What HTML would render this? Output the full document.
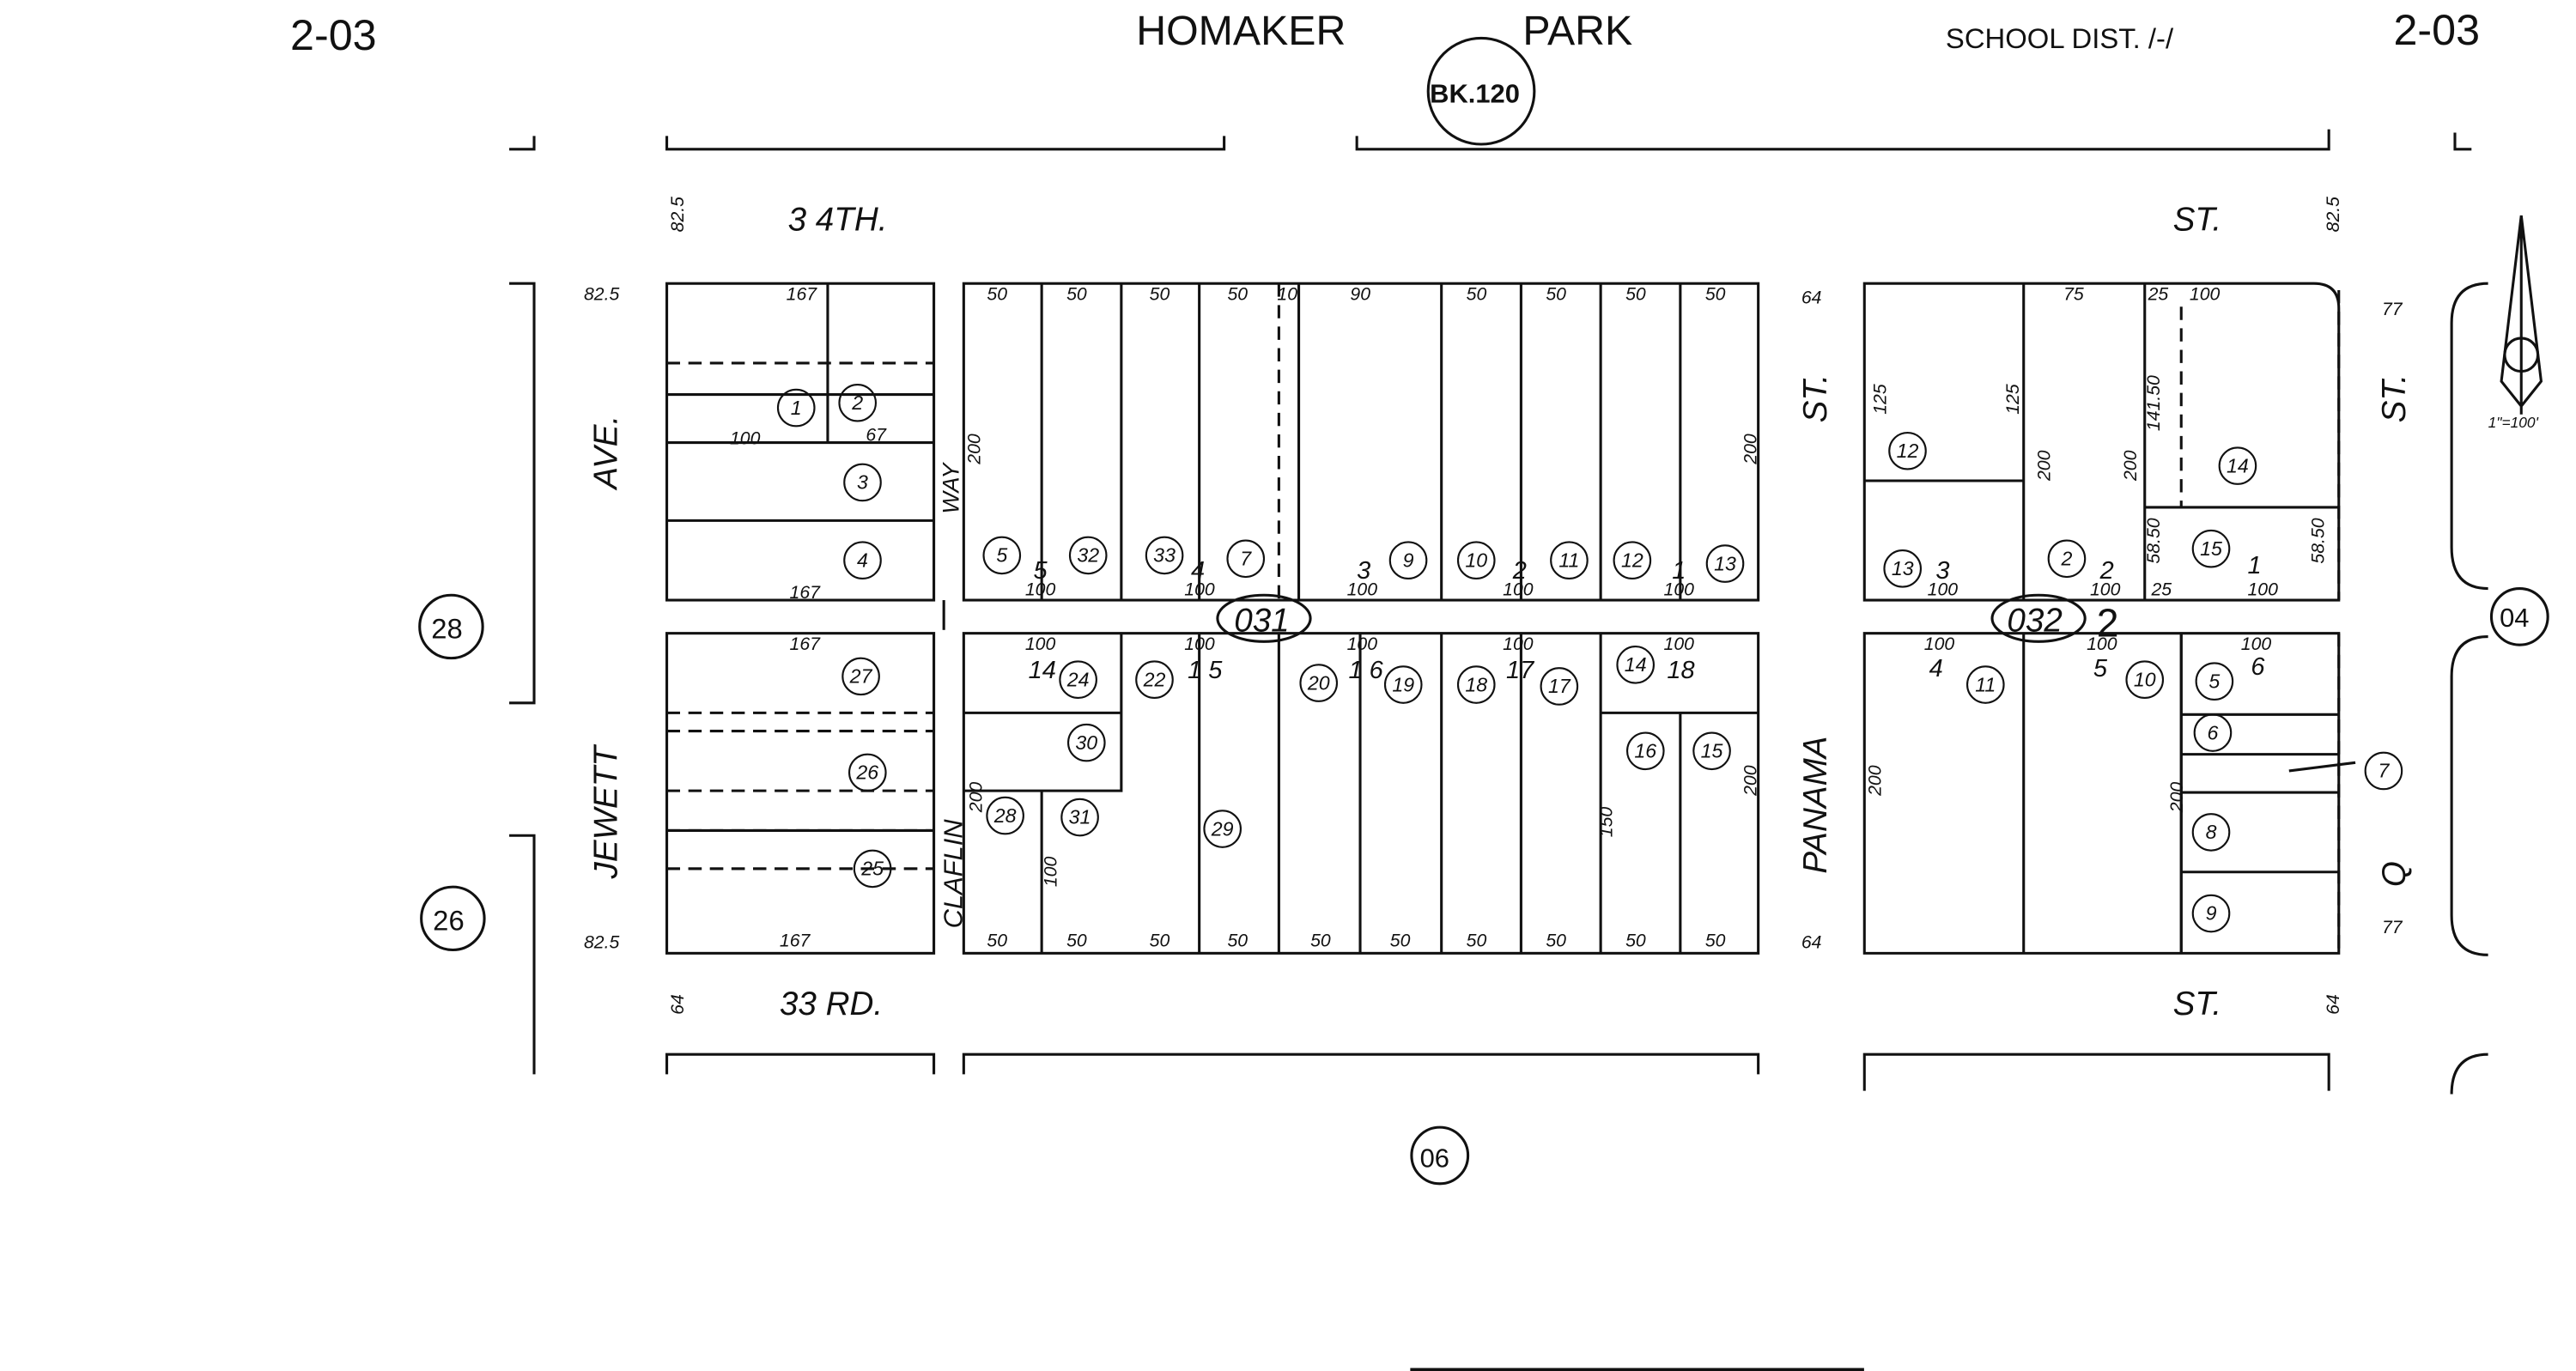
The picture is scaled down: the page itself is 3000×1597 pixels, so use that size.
<!DOCTYPE html>
<html><head><meta charset="utf-8"><style>
html,body{margin:0;padding:0;background:#fff;width:3000px;height:1597px;overflow:hidden}
svg{display:block}
text{font-family:"Liberation Sans",sans-serif;fill:#111}
.i{font-style:italic}
</style></head><body>
<svg width="3000" height="1597" viewBox="0 0 1553 827" preserveAspectRatio="none" xmlns="http://www.w3.org/2000/svg">
<g stroke="#111" stroke-width="1.6" fill="none">
<!-- top brackets -->
<path d="M402 82V90H738V82M818 82V90H1404V78M307 90H322V82M1480 80V90H1490"/>
<!-- left brackets -->
<path d="M307 171H322V424H307M307 504H322V648"/>
<!-- bottom brackets -->
<path d="M402 648V636H563V648M581 648V636H1060V648M1124 658V636H1404V658"/>
<!-- right curves -->
<path d="M1500 171Q1478 171 1478 195V330Q1478 355 1500 355M1500 384Q1478 384 1478 408V552Q1478 576 1500 576M1500 636Q1478 636 1478 660"/>
<!-- blocks -->
<rect x="402" y="171" width="161" height="191"/>
<rect x="402" y="382" width="161" height="193"/>
<rect x="581" y="171" width="479" height="191"/>
<rect x="581" y="382" width="479" height="193"/>
<path d="M1124 171H1395Q1410 171 1410 186V362H1124Z"/>
<path d="M1124 382H1410V575H1395Q1376 575 1376 575H1124Z"/>
<!-- block A inner -->
<path d="M499 171V267M402 267H563M402 314H563M402 238H563"/>
<path d="M402 219H563M402 430H563M402 477H563M402 501H563M402 524H563" stroke-dasharray="8 5"/>
<path d="M402 441H563M402 524H563" stroke-dasharray="8 5"/>
<path d="M402 501H563"/>
<!-- block B inner top -->
<path d="M628 171V362M676 171V362M723 171V362M783 171V362M869 171V362M917 171V362M965 171V362M1013 171V362"/>
<path d="M771 171V362" stroke-dasharray="8 5"/>
<!-- block B inner bottom -->
<path d="M581 430H676V382M581 477H676V430M628 477V575M723 382V575M771 382V575M820 382V575M869 382V575M917 382V575M965 382V575M965 430H1060M1013 430V575"/>
<!-- block C -->
<path d="M1220 171V362M1124 290H1220M1293 171V362M1293 306H1410M1220 382V575M1315 382V575M1315 431H1410M1315 455H1410M1315 478H1410M1315 526H1410"/>
<path d="M1315 185V306M1410 175V362M1410 382V575" stroke-dasharray="8 5"/>
<path d="M1315 382V575" />
<!-- small circles -->
<circle cx="893" cy="55" r="32"/>
<circle cx="272" cy="378" r="19"/><circle cx="273" cy="554" r="19"/>
<circle cx="1519" cy="372" r="17"/><circle cx="868" cy="697" r="17"/>
<ellipse cx="762" cy="373" rx="28" ry="14"/><ellipse cx="1229" cy="373" rx="28" ry="14"/>
<g stroke-width="1.1">
<circle cx="480" cy="246" r="11"/><circle cx="517" cy="243" r="11"/><circle cx="520" cy="291" r="11"/><circle cx="520" cy="338" r="11"/>
<circle cx="519" cy="408" r="11"/><circle cx="523" cy="466" r="11"/><circle cx="526" cy="524" r="11"/>
<circle cx="604" cy="335" r="11"/><circle cx="656" cy="335" r="11"/><circle cx="702" cy="335" r="11"/><circle cx="751" cy="337" r="11"/>
<circle cx="849" cy="338" r="11"/><circle cx="890" cy="338" r="11"/><circle cx="946" cy="338" r="11"/><circle cx="984" cy="338" r="11"/><circle cx="1040" cy="340" r="11"/>
<circle cx="650" cy="410" r="11"/><circle cx="696" cy="410" r="11"/><circle cx="795" cy="412" r="11"/><circle cx="846" cy="413" r="11"/><circle cx="890" cy="413" r="11"/><circle cx="940" cy="414" r="11"/><circle cx="986" cy="401" r="11"/>
<circle cx="655" cy="448" r="11"/><circle cx="606" cy="492" r="11"/><circle cx="651" cy="493" r="11"/><circle cx="737" cy="500" r="11"/><circle cx="992" cy="453" r="11"/><circle cx="1032" cy="453" r="11"/>
<circle cx="1150" cy="272" r="11"/><circle cx="1147" cy="343" r="11"/><circle cx="1246" cy="337" r="11"/><circle cx="1349" cy="281" r="11"/><circle cx="1333" cy="331" r="11"/>
<circle cx="1197" cy="413" r="11"/><circle cx="1293" cy="410" r="11"/><circle cx="1335" cy="411" r="11"/><circle cx="1334" cy="442" r="11"/><circle cx="1437" cy="465" r="11"/><circle cx="1333" cy="502" r="11"/><circle cx="1333" cy="551" r="11"/>
</g>
<!-- north arrow -->
<path d="M1520 130L1508 230L1520 245L1532 230Z M1520 130V250"/>
<circle cx="1520" cy="214" r="10"/>
<path d="M1420 460L1380 465"/>
<!-- note box -->
<path d="M851 827V826H1123V827" />
<path d="M851 827V829H1123V827"/>
<path d="M569 362V380"/>
</g>
<!-- headers -->
<text x="175" y="30" font-size="26">2-03</text>
<text x="685" y="27" font-size="25">HOMAKER</text>
<text x="918" y="27" font-size="25">PARK</text>
<text x="1173" y="29" font-size="17">SCHOOL DIST. /-/</text>
<text x="1443" y="27" font-size="26">2-03</text>
<text x="862" y="62" font-size="16" font-weight="bold">BK.120</text>
<text x="260" y="385" font-size="17">28</text><text x="261" y="561" font-size="17">26</text>
<text x="1507" y="378" font-size="16">04</text><text x="856" y="704" font-size="16">06</text>
<text x="744" y="381" font-size="20" class="i">031</text><text x="1210" y="381" font-size="20" class="i">032</text>
<text x="1264" y="384" font-size="24">2</text>
<!-- street names -->
<g class="i" font-size="20">
<text x="475" y="139">3 4TH.</text><text x="1310" y="139">ST.</text>
<text x="470" y="612">33 RD.</text><text x="1310" y="612">ST.</text>
<text transform="translate(372 295) rotate(-90)">AVE.</text>
<text transform="translate(372 530) rotate(-90)">JEWETT</text>
<text transform="translate(580 560) rotate(-90)" font-size="16">CLAFLIN</text>
<text transform="translate(578 310) rotate(-90)" font-size="14">WAY</text>
<text transform="translate(1101 255) rotate(-90)">ST.</text>
<text transform="translate(1101 527) rotate(-90)">PANAMA</text>
<text transform="translate(1450 255) rotate(-90)">ST.</text>
<text transform="translate(1450 535) rotate(-90)">Q</text>
</g>
<!-- dimensions -->
<g class="i" font-size="11">
<text x="352" y="181">82.5</text><text x="352" y="572">82.5</text><text x="1086" y="183">64</text><text x="1086" y="572">64</text>
<text x="474" y="181">167</text><text x="476" y="361">167</text><text x="476" y="392">167</text><text x="470" y="571">167</text>
<text x="440" y="268">100</text><text x="522" y="266">67</text>
<text x="595" y="181">50</text><text x="643" y="181">50</text><text x="693" y="181">50</text><text x="740" y="181">50</text><text x="770" y="181">10</text><text x="814" y="181">90</text><text x="884" y="181">50</text><text x="932" y="181">50</text><text x="980" y="181">50</text><text x="1028" y="181">50</text>
<text x="595" y="571">50</text><text x="643" y="571">50</text><text x="693" y="571">50</text><text x="740" y="571">50</text><text x="790" y="571">50</text><text x="838" y="571">50</text><text x="884" y="571">50</text><text x="932" y="571">50</text><text x="980" y="571">50</text><text x="1028" y="571">50</text>
<text x="618" y="359">100</text><text x="714" y="359">100</text><text x="812" y="359">100</text><text x="906" y="359">100</text><text x="1003" y="359">100</text>
<text x="618" y="392">100</text><text x="714" y="392">100</text><text x="812" y="392">100</text><text x="906" y="392">100</text><text x="1003" y="392">100</text>
<text x="1244" y="181">75</text><text x="1295" y="181">25</text><text x="1320" y="181">100</text>
<text x="1162" y="359">100</text><text x="1260" y="359">100</text><text x="1297" y="359">25</text><text x="1355" y="359">100</text>
<text x="1160" y="392">100</text><text x="1258" y="392">100</text><text x="1351" y="392">100</text>
<text x="1436" y="190">77</text><text x="1436" y="563">77</text><text x="1500" y="258" font-size="9">1"=100'</text>
</g>
<g class="i" font-size="15">
<text x="623" y="349">5</text><text x="718" y="349">4</text><text x="818" y="349">3</text><text x="912" y="349">2</text><text x="1008" y="349">1</text>
<text x="620" y="409">14</text><text x="716" y="409">1 5</text><text x="813" y="409">1 6</text><text x="908" y="409">17</text><text x="1005" y="409">18</text>
<text x="1167" y="349">3</text><text x="1266" y="349">2</text><text x="1355" y="346">1</text>
<text x="1163" y="408">4</text><text x="1262" y="408">5</text><text x="1357" y="407">6</text>
</g>
<!-- lot circle numbers -->
<g class="i" font-size="12" text-anchor="middle">
<text x="480" y="250">1</text><text x="517" y="247">2</text><text x="520" y="295">3</text><text x="520" y="342">4</text>
<text x="519" y="412">27</text><text x="523" y="470">26</text><text x="526" y="528">25</text>
<text x="604" y="339">5</text><text x="656" y="339">32</text><text x="702" y="339">33</text><text x="751" y="341">7</text>
<text x="849" y="342">9</text><text x="890" y="342">10</text><text x="946" y="342">11</text><text x="984" y="342">12</text><text x="1040" y="344">13</text>
<text x="650" y="414">24</text><text x="696" y="414">22</text><text x="795" y="416">20</text><text x="846" y="417">19</text><text x="890" y="417">18</text><text x="940" y="418">17</text><text x="986" y="405">14</text>
<text x="655" y="452">30</text><text x="606" y="496">28</text><text x="651" y="497">31</text><text x="737" y="504">29</text><text x="992" y="457">16</text><text x="1032" y="457">15</text>
<text x="1150" y="276">12</text><text x="1147" y="347">13</text><text x="1246" y="341">2</text><text x="1349" y="285">14</text><text x="1333" y="335">15</text>
<text x="1197" y="417">11</text><text x="1293" y="414">10</text><text x="1335" y="415">5</text><text x="1334" y="446">6</text><text x="1437" y="469">7</text><text x="1333" y="506">8</text><text x="1333" y="555">9</text>
</g>
<g class="i" font-size="11">
<text transform="translate(591 280) rotate(-90)">200</text>
<text transform="translate(1059 280) rotate(-90)">200</text>
<text transform="translate(1134 480) rotate(-90)">200</text>
<text transform="translate(1316 490) rotate(-90)">200</text>
<text transform="translate(1059 480) rotate(-90)">200</text>
<text transform="translate(972 505) rotate(-90)">150</text>
<text transform="translate(637 535) rotate(-90)">100</text>
<text transform="translate(592 490) rotate(-90)">200</text>
<text transform="translate(1217 250) rotate(-90)">125</text>
<text transform="translate(1137 250) rotate(-90)">125</text>
<text transform="translate(1236 290) rotate(-90)">200</text>
<text transform="translate(1288 290) rotate(-90)">200</text>
<text transform="translate(1302 260) rotate(-90)">141.50</text>
<text transform="translate(1302 340) rotate(-90)">58.50</text>
<text transform="translate(1401 340) rotate(-90)">58.50</text>
<text transform="translate(1410 140) rotate(-90)">82.5</text>
<text transform="translate(412 140) rotate(-90)">82.5</text>
<text transform="translate(412 612) rotate(-90)">64</text>
<text transform="translate(1410 612) rotate(-90)">64</text>
</g>
<rect x="851" y="826" width="272" height="2" fill="#111"/>
</svg>
</body></html>
